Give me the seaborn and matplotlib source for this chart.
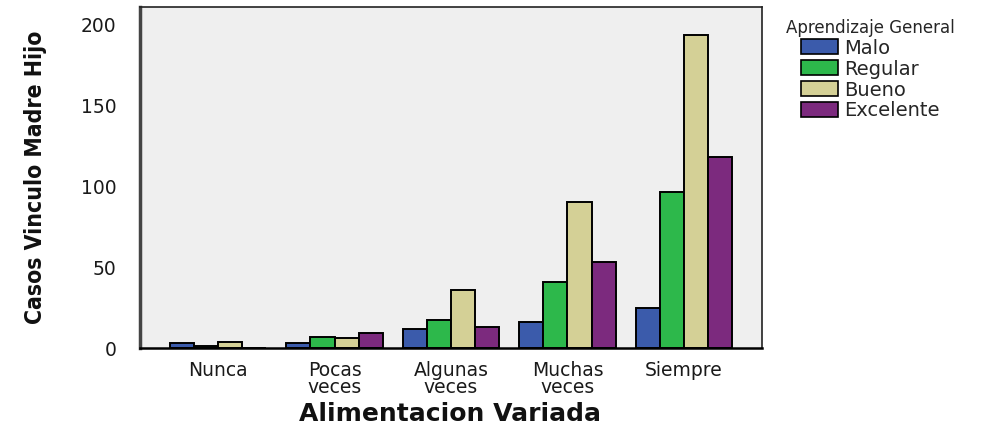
import numpy as np
import pandas as pd
import seaborn as sns
import matplotlib
matplotlib.use("Agg")
import matplotlib.pyplot as plt

categorias = ["Nunca", "Pocas\nveces", "Algunas\nveces", "Muchas\nveces", "Siempre"]
niveles = ["Malo", "Regular", "Bueno", "Excelente"]
malo = [3, 3, 12, 16, 25]
regular = [1, 7, 17, 41, 96]
bueno = [4, 6, 36, 90, 193]
excelente = [0, 9, 13, 53, 118]
colores = ["#3B5BAB", "#2DB84B", "#D4D096", "#7C2A7E"]

filas = []
for nivel, vals in zip(niveles, [malo, regular, bueno, excelente]):
    for c, v in zip(categorias, vals):
        filas.append({"cat": c, "nivel": nivel, "casos": v})
df = pd.DataFrame(filas)

sns.set_style("white")
plt.rcParams["font.family"] = ["DejaVu Sans"]

fig = plt.figure(figsize=(9.96, 4.28), dpi=100)
ax = fig.add_axes([140 / 996, 80 / 428, 622 / 996, 341 / 428])
ax.set_facecolor("#EFEFEF")

sns.barplot(data=df, x="cat", y="casos", hue="nivel", order=categorias,
            hue_order=niveles, palette=colores, saturation=1, width=0.83,
            edgecolor="black", linewidth=1.4, errorbar=None, ax=ax)

ax.set_xlim(-0.67, 4.67)
ax.set_ylim(0, 210.5)
ax.set_yticks([0, 50, 100, 150, 200])
ax.tick_params(axis="y", length=14, width=1.5, color="#333333", labelsize=13.5,
               labelcolor="#1a1a1a", pad=3)
ax.tick_params(axis="x", length=8, width=1.5, color="black", labelsize=13.5,
               labelcolor="#1a1a1a", pad=1)
for t in ax.get_xticklabels():
    t.set_linespacing(0.92)

for s in ["top", "right"]:
    ax.spines[s].set_color("#222222")
    ax.spines[s].set_linewidth(1.2)
ax.spines["left"].set_color("#444444")
ax.spines["left"].set_linewidth(2.5)
ax.spines["bottom"].set_color("black")
ax.spines["bottom"].set_linewidth(1.8)

ax.set_xlabel("Alimentacion Variada", fontsize=18, fontweight="bold", color="#111111")
ax.xaxis.set_label_coords(0.498, -0.157)
ax.set_ylabel("Casos Vinculo Madre Hijo", fontsize=16.5, fontweight="bold",
              fontstretch="condensed", color="#111111")
ax.yaxis.set_label_coords(-0.15, 0.5)

leg = ax.legend(title="Aprendizaje General", loc="upper left",
                bbox_to_anchor=(1.02, 1.0), frameon=False, fontsize=14,
                title_fontsize=12, handlelength=1.9, handleheight=0.8,
                handletextpad=0.3, labelspacing=0.1, borderaxespad=0.2)
for h in leg.legend_handles:
    h.set_edgecolor("black")
    h.set_linewidth(1.2)

fig.savefig("out.png", dpi=100)
